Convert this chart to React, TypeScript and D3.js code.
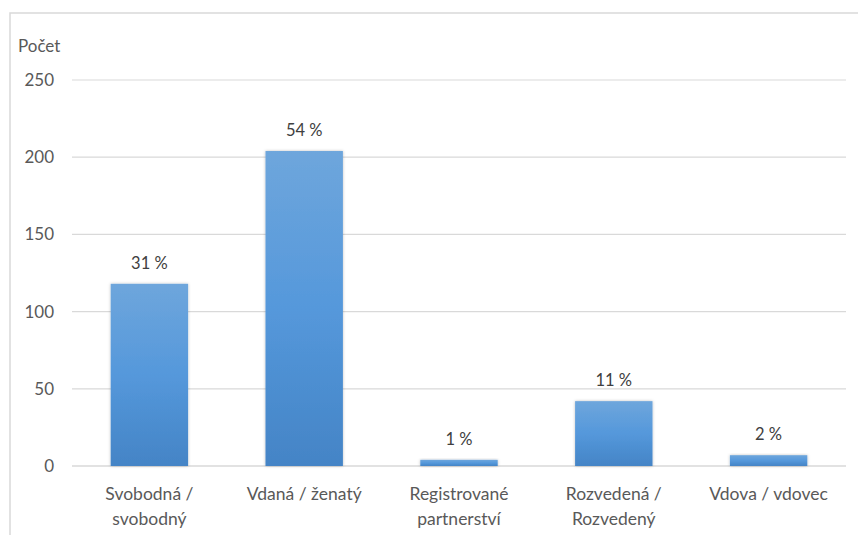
import * as d3 from "d3";

const categories = [
  ["Svobodná /", "svobodný"],
  ["Vdaná / ženatý"],
  ["Registrované", "partnerství"],
  ["Rozvedená /", "Rozvedený"],
  ["Vdova / vdovec"],
];
const counts = [118, 204, 4, 42, 7];
const shares = ["31 %", "54 %", "1 %", "11 %", "2 %"];
const yTicks = [0, 50, 100, 150, 200, 250];

export default function App() {
  const width = 858;
  const height = 535;
  const plot = { left: 72, right: 846, top: 80, bottom: 466 };
  const font = "Lato, 'Open Sans', sans-serif";

  const x = d3
    .scaleBand<number>()
    .domain(counts.map((_, i) => i))
    .range([plot.left, plot.right])
    .paddingInner(0.5)
    .paddingOuter(0.25);

  const y = d3.scaleLinear().domain([0, 250]).range([plot.bottom, plot.top]);

  return (
    <svg
      width={width}
      height={height}
      style={{ position: "absolute", left: 0, top: 0, background: "#fff" }}
      fontFamily={font}
    >
      <defs>
        <linearGradient id="barGrad" x1="0" y1="0" x2="0" y2="1">
          <stop offset="0%" stopColor="#6ea6dc" />
          <stop offset="50%" stopColor="#5598db" />
          <stop offset="100%" stopColor="#4484c6" />
        </linearGradient>
        <filter id="shadow" x="-20%" y="-20%" width="140%" height="140%">
          <feDropShadow dx="0" dy="0" stdDeviation="1.5" floodColor="#000" floodOpacity="0.25" />
        </filter>
      </defs>

      {/* chart frame */}
      <rect x={10} y={13} width={width + 20} height={height + 20} fill="none" stroke="#d9d9d9" strokeWidth={1.5} />

      <text x={18} y={52} fontSize={17} fill="#595959">Počet</text>

      {/* grid + y ticks */}
      {yTicks.map(t => (
        <g key={t}>
          <line x1={plot.left} x2={plot.right} y1={y(t)} y2={y(t)} stroke="#d9d9d9" strokeWidth={t === 0 ? 1.5 : 1.2} />
          <text x={54} y={y(t)} dy="0.35em" textAnchor="end" fontSize={17} fill="#595959">
            {t}
          </text>
        </g>
      ))}

      {/* bars */}
      {counts.map((v, i) => {
        const bx = x(i) ?? 0;
        return (
          <g key={i}>
            <rect
              x={bx}
              y={y(v)}
              width={x.bandwidth()}
              height={y(0) - y(v)}
              fill="url(#barGrad)"
              filter="url(#shadow)"
            />
            <text
              x={bx + x.bandwidth() / 2}
              y={y(v) - 15}
              textAnchor="middle"
              fontSize={16.5}
              fill="#404040"
            >
              {shares[i]}
            </text>
          </g>
        );
      })}

      {/* x labels */}
      {categories.map((lines, i) => (
        <text
          key={i}
          x={(x(i) ?? 0) + x.bandwidth() / 2}
          y={500}
          textAnchor="middle"
          fontSize={17.5}
          fill="#595959"
        >
          {lines.map((l, j) => (
            <tspan key={j} x={(x(i) ?? 0) + x.bandwidth() / 2} dy={j === 0 ? 0 : 25}>
              {l}
            </tspan>
          ))}
        </text>
      ))}
    </svg>
  );
}
